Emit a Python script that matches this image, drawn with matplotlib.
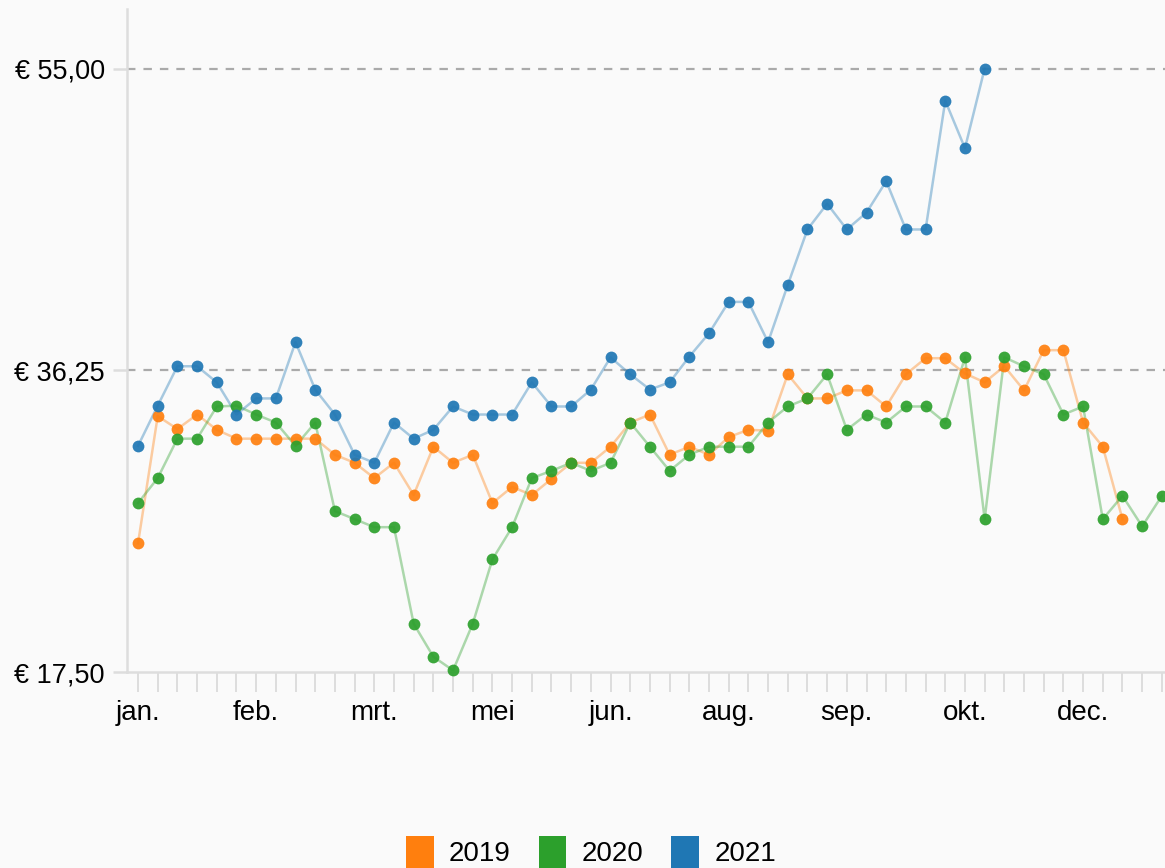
import matplotlib.pyplot as plt
from matplotlib.patches import Patch

# Weekly prices (euro), one value per week
prices_2019 = [25.5, 33.4, 32.6, 33.5, 32.55, 32.0, 32.0, 32.0, 32.0, 32.0,
               31.0, 30.5, 29.55, 30.5, 28.5, 31.5, 30.5, 31.0, 28.0, 29.0,
               28.5, 29.5, 30.5, 30.5, 31.5, 33.0, 33.5, 31.0, 31.5, 31.0,
               32.1, 32.55, 32.5, 36.0, 34.5, 34.5, 35.0, 35.0, 34.0, 36.0,
               37.0, 37.0, 36.05, 35.5, 36.5, 35.0, 37.5, 37.5, 33.0, 31.5,
               27.0]
prices_2020 = [28.0, 29.55, 32.0, 32.0, 34.0, 34.05, 33.5, 33.0, 31.55, 33.0,
               27.5, 27.0, 26.5, 26.5, 20.5, 18.45, 17.6, 20.5, 24.5, 26.5,
               29.55, 30.0, 30.5, 30.0, 30.5, 33.0, 31.5, 30.0, 31.0, 31.5,
               31.5, 31.5, 33.0, 34.0, 34.5, 36.0, 32.55, 33.5, 33.0, 34.0,
               34.0, 33.0, 37.05, 27.0, 37.05, 36.5, 36.0, 33.5, 34.0, 27.0,
               28.45, 26.55, 28.45]
prices_2021 = [31.55, 34.05, 36.5, 36.5, 35.5, 33.5, 34.5, 34.5, 38.0, 35.05,
               33.5, 31.0, 30.5, 33.0, 32.0, 32.55, 34.0, 33.5, 33.5, 33.5,
               35.5, 34.0, 34.0, 35.05, 37.05, 36.0, 35.05, 35.5, 37.1, 38.55,
               40.5, 40.5, 38.0, 41.55, 45.0, 46.6, 45.0, 46.05, 48.0, 45.0,
               45.0, 53.0, 50.05, 55.0]

years = ['2019', '2020', '2021']
series = [prices_2019, prices_2020, prices_2021]
colors = ['#ff7f0e', '#2ca02c', '#1f77b4']

n_weeks = 53
month_labels = {0: 'jan.', 6: 'feb.', 12: 'mrt.', 18: 'mei', 24: 'jun.',
                30: 'aug.', 36: 'sep.', 42: 'okt.', 48: 'dec.'}
y_ticks = [17.5, 36.25, 55.0]
y_ticklabels = ['€ 17,50', '€ 36,25', '€ 55,00']

plt.rcParams['font.family'] = ['Liberation Sans', 'DejaVu Sans']

fig = plt.figure(figsize=(11.65, 8.68), dpi=100)
fig.patch.set_facecolor('#fafafa')
ax = fig.add_axes([127 / 1165, 196 / 868, 1038 / 1165, 663 / 868])
ax.set_facecolor('#fafafa')

# dashed reference lines
for yv in y_ticks[1:]:
    ax.axhline(yv, color='#aaaaaa', lw=1.6, linestyle=(0, (3.8, 3.6)), zorder=1)

for vals, col, yr in zip(series, colors, years):
    xs = list(range(len(vals)))
    ax.plot(xs, vals, color=col, lw=1.8, alpha=0.38, zorder=2, clip_on=False)
    ax.plot(xs, vals, linestyle='none', marker='o', markersize=8.5, color=col,
            markeredgewidth=0, alpha=0.92, zorder=3, clip_on=False)

ax.set_xlim(-0.56, 52.16)
ax.set_ylim(17.5, 58.7)

ax.set_xticks(range(n_weeks))
ax.set_xticklabels([month_labels.get(i, '') for i in range(n_weeks)], fontsize=20)
ax.set_yticks(y_ticks)
ax.set_yticklabels(y_ticklabels, fontsize=19.5)

ax.tick_params(axis='x', length=14.5, width=1.4, color='#dddddd', pad=6)
ax.tick_params(axis='y', length=10, width=1.8, color='#dddddd', pad=6)

for side in ['top', 'right']:
    ax.spines[side].set_visible(False)
for side in ['left', 'bottom']:
    ax.spines[side].set_color('#dddddd')
    ax.spines[side].set_linewidth(1.8)

handles = [Patch(facecolor=c, edgecolor='none', label=y) for c, y in zip(colors, years)]
fig.legend(handles=handles, loc='center', bbox_to_anchor=(591 / 1165, 16 / 868),
           ncol=3, frameon=False, fontsize=20, handlelength=1.0, handleheight=1.35,
           handletextpad=0.55, columnspacing=1.0)

fig.savefig('out.png', dpi=100, facecolor=fig.get_facecolor())
